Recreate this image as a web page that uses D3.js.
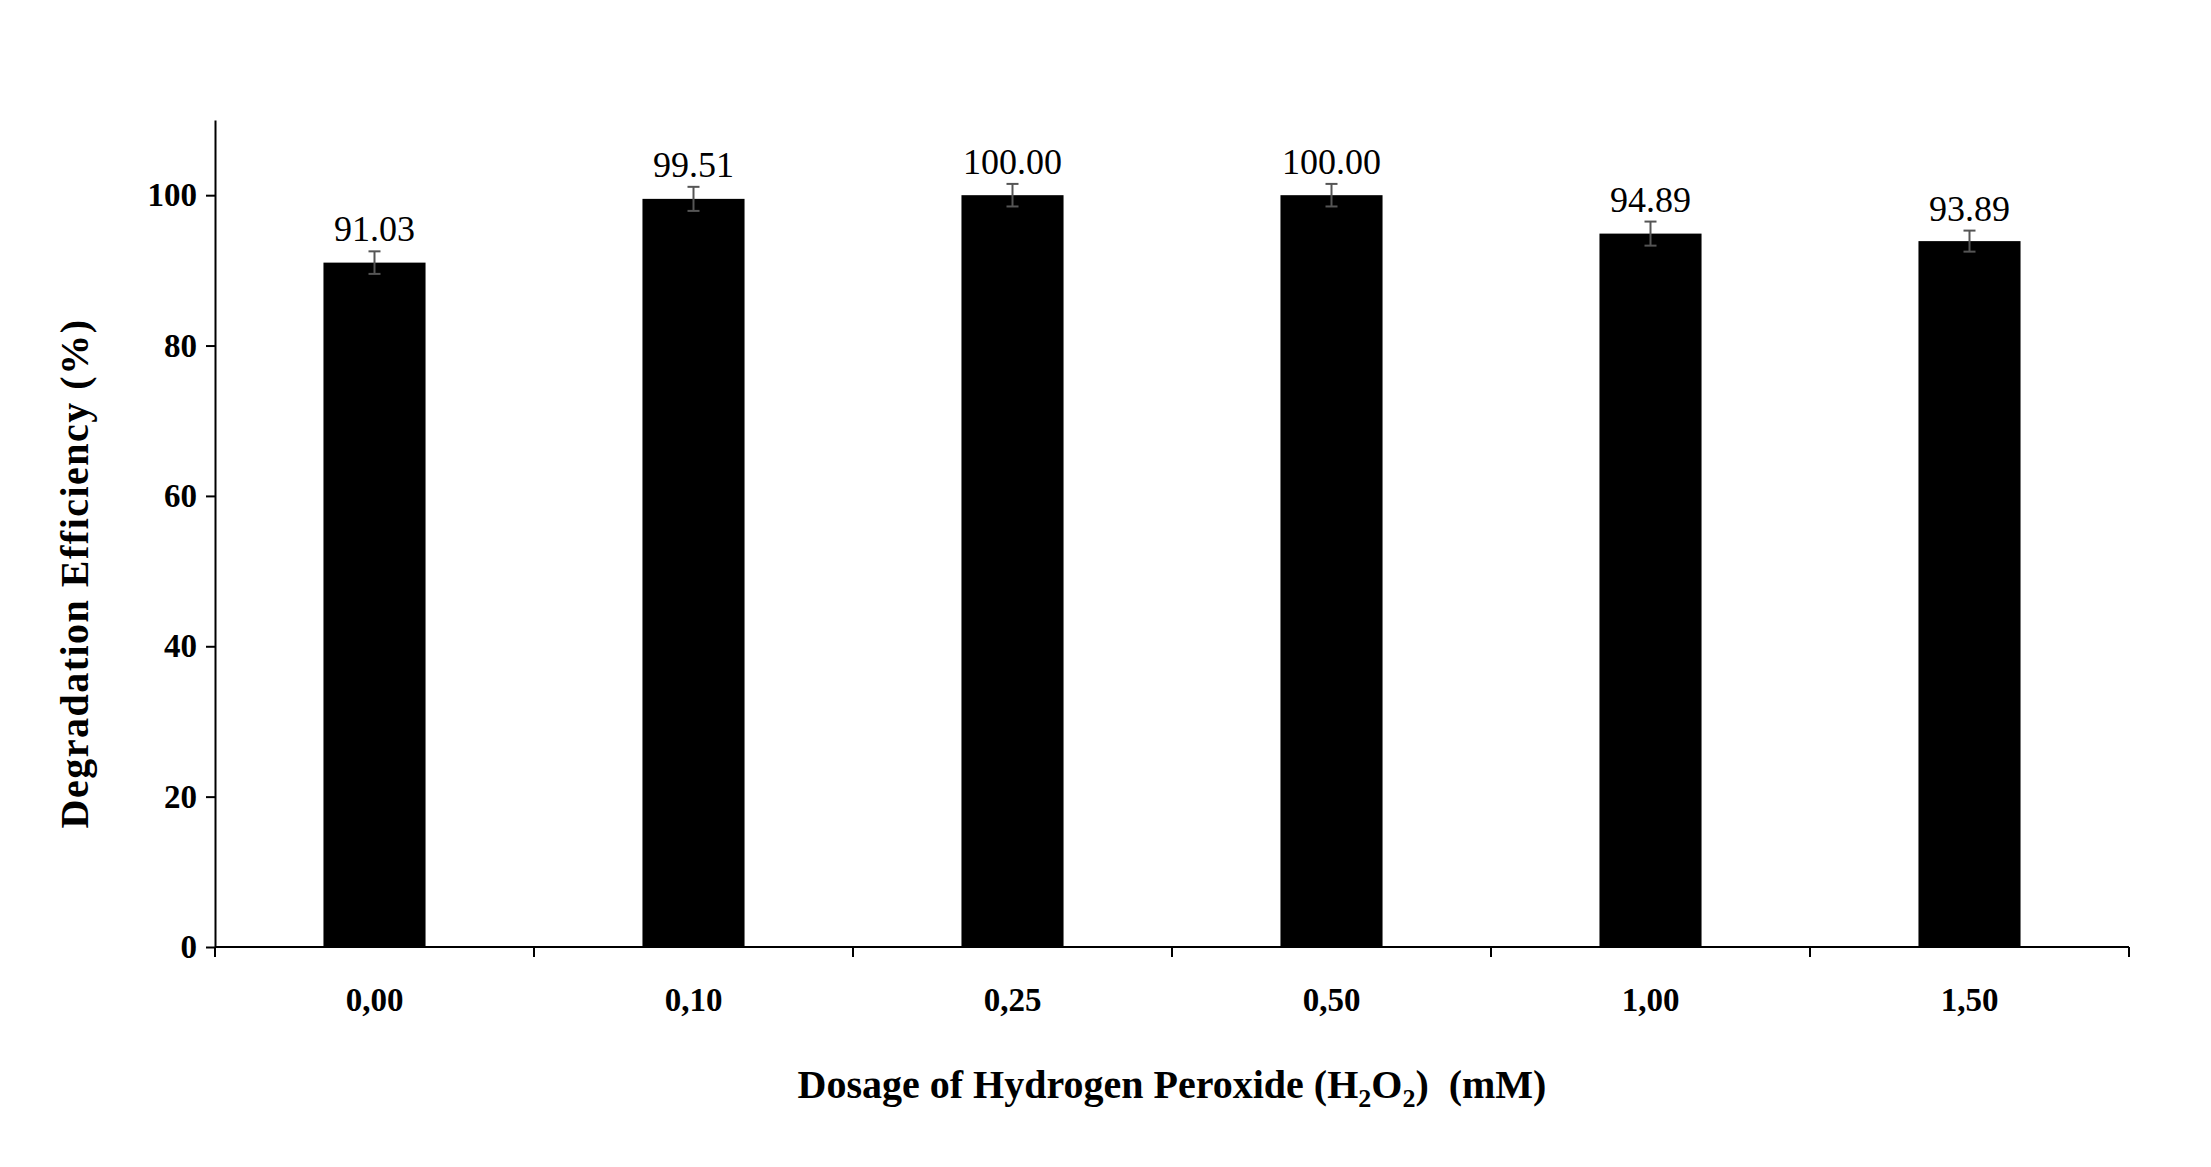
<!DOCTYPE html>
<html><head><meta charset="utf-8">
<script src="https://cdn.jsdelivr.net/npm/d3@7"></script>
<style>body{margin:0;background:#fff}</style></head>
<body><svg id="c" width="2211" height="1167"></svg>
<script>
const categories = ["0.00","0.10","0.25","0.50","1.00","1.50"];
const values = [91.03, 99.51, 100.00, 100.00, 94.89, 93.89];
const errors = [1.5, 1.6, 1.5, 1.5, 1.6, 1.4];
const valueLabels = ["91.03","99.51","100.00","100.00","94.89","93.89"];
const yTicks = [0,20,40,60,80,100];

const svg = d3.select("#c");
const L=215, R=2129, T=120, B=947;
const x = d3.scaleBand().domain(categories).range([L,R]).paddingInner(0.68).paddingOuter(0.34);
const y = d3.scaleLinear().domain([0,110]).range([B,T]);
const font = "Liberation Serif, Times New Roman, serif";

svg.selectAll(".bar").data(values).join("rect")
  .attr("x",(d,i)=>x(categories[i])).attr("width",x.bandwidth())
  .attr("y",d=>y(d)).attr("height",d=>B-y(d)).attr("fill","#000");

const eb = svg.append("g").attr("stroke","#555").attr("stroke-width",2);
values.forEach((v,i)=>{
  const cx = x(categories[i])+x.bandwidth()/2;
  eb.append("line").attr("x1",cx).attr("x2",cx).attr("y1",y(v+errors[i])).attr("y2",y(v-errors[i]));
  eb.append("line").attr("x1",cx-6).attr("x2",cx+6).attr("y1",y(v+errors[i])).attr("y2",y(v+errors[i]));
  eb.append("line").attr("x1",cx-6).attr("x2",cx+6).attr("y1",y(v-errors[i])).attr("y2",y(v-errors[i]));
});

svg.selectAll(".vl").data(values).join("text")
  .attr("x",(d,i)=>x(categories[i])+x.bandwidth()/2)
  .attr("y",(d,i)=>y(d+errors[i])-10)
  .attr("text-anchor","middle").style("font-family",font).attr("font-size",36)
  .text((d,i)=>valueLabels[i]);

const ya = svg.append("g").attr("transform",`translate(${L},0)`)
  .call(d3.axisLeft(y).tickValues(yTicks).tickSize(9).tickSizeOuter(0));
ya.select(".domain").attr("stroke","#000").attr("stroke-width",2);
ya.selectAll(".tick line").attr("stroke","#000").attr("stroke-width",2);
ya.selectAll("text").style("font-family",font).attr("font-size",33).attr("font-weight","bold").attr("x",-18);

const xa = svg.append("g").attr("transform",`translate(0,${B})`);
xa.append("line").attr("x1",L).attr("x2",R).attr("y1",0).attr("y2",0).attr("stroke","#000").attr("stroke-width",2);
const bounds = d3.range(categories.length+1).map(i=>L+i*(R-L)/categories.length);
xa.selectAll(".tk").data(bounds).join("line").attr("x1",d=>d).attr("x2",d=>d).attr("y1",0).attr("y2",10).attr("stroke","#000").attr("stroke-width",2);
xa.selectAll(".xl").data(categories).join("text")
  .attr("x",d=>x(d)+x.bandwidth()/2).attr("y",64).attr("text-anchor","middle")
  .style("font-family",font).attr("font-size",33).attr("font-weight","bold").text(d=>d.replace(".",","));

const xt = svg.append("text").attr("x",(L+R)/2).attr("y",1098).attr("text-anchor","middle")
  .style("font-family",font).attr("font-size",40).attr("font-weight","bold");
xt.append("tspan").text("Dosage of Hydrogen Peroxide (H");
xt.append("tspan").attr("font-size",26).attr("dy",9).text("2");
xt.append("tspan").attr("dy",-9).text("O");
xt.append("tspan").attr("font-size",26).attr("dy",9).text("2");
xt.append("tspan").attr("dy",-9).text(")\u00a0\u00a0(mM)");

svg.append("text").attr("transform",`translate(88,${(T+B)/2+40}) rotate(-90)`).attr("text-anchor","middle")
  .style("font-family",font).attr("font-size",40).attr("font-weight","bold").attr("letter-spacing",1.5)
  .text("Degradation Efficiency (%)");
</script></body></html>
